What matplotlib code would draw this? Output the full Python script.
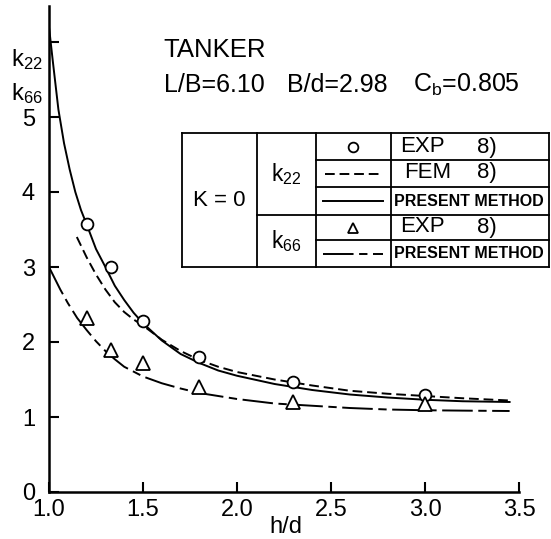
import numpy as np
import matplotlib.pyplot as plt
from matplotlib.lines import Line2D

plt.rcParams['font.family'] = ['Liberation Sans', 'DejaVu Sans']
plt.rcParams['mathtext.fontset'] = 'custom'
plt.rcParams['mathtext.rm'] = 'Liberation Sans'
plt.rcParams['lines.scale_dashes'] = False

# experimental points (EXP 8))
hd_exp = [1.2, 1.33, 1.5, 1.8, 2.3, 3.0]
k22_exp = [3.57, 3.0, 2.28, 1.8, 1.47, 1.29]
k66_exp = [2.32, 1.89, 1.72, 1.40, 1.20, 1.17]

# k22 present method (solid)
hd_k22_pm = [1.0, 1.02, 1.05, 1.08, 1.11, 1.14, 1.17, 1.2, 1.25, 1.3, 1.35, 1.4,
             1.45, 1.5, 1.6, 1.7, 1.8, 1.9, 2.0, 2.2, 2.4, 2.6, 2.8, 3.0, 3.2, 3.45]
k22_pm = [6.2, 5.75, 5.1, 4.65, 4.3, 4.0, 3.76, 3.57, 3.24, 3.0, 2.75, 2.56,
          2.39, 2.25, 2.02, 1.84, 1.72, 1.62, 1.55, 1.44, 1.36, 1.30, 1.26, 1.23, 1.21, 1.2]

# k22 FEM 8) (dashed)
hd_fem = [1.148, 1.2, 1.25, 1.3, 1.35, 1.4, 1.45, 1.5, 1.6, 1.7, 1.8, 1.9, 2.0,
          2.2, 2.4, 2.6, 2.8, 3.0, 3.2, 3.45]
k22_fem = [3.4, 3.13, 2.9, 2.7, 2.53, 2.4, 2.3, 2.22, 2.03, 1.88, 1.76, 1.67, 1.6,
           1.5, 1.42, 1.35, 1.31, 1.28, 1.25, 1.22]

# k66 present method (dash-dot)
hd_k66_pm = [1.0, 1.03, 1.06, 1.1, 1.15, 1.2, 1.25, 1.3, 1.35, 1.4, 1.5, 1.6, 1.7,
             1.8, 1.9, 2.0, 2.2, 2.4, 2.6, 2.8, 3.0, 3.2, 3.45]
k66_pm = [3.0, 2.85, 2.7, 2.52, 2.32, 2.16, 2.01, 1.88, 1.77, 1.67, 1.54, 1.45, 1.38,
          1.32, 1.28, 1.24, 1.18, 1.15, 1.12, 1.10, 1.09, 1.085, 1.08]

xticks = [1.0, 1.5, 2.0, 2.5, 3.0, 3.5]
xtick_labels = ['1.0', '1.5', '2.0', '2.5', '3.0', '3.5']
yticks = [0, 1, 2, 3, 4, 5, 6]
ytick_labels = ['0', '1', '2', '3', '4', '5', '']

W, H = 551, 539
fig = plt.figure(figsize=(W / 100, H / 100), dpi=100)
ax = fig.add_axes([49 / W, 1 - 492 / H, 470 / W, 486 / H])

lw = 1.4
dash = (0, (7, 3.5))
dashdot = (0, (22, 4, 6, 4))

ax.plot(hd_k22_pm, k22_pm, color='k', lw=lw)
ax.plot(hd_fem, k22_fem, color='k', lw=lw, linestyle=dash)
ax.plot(hd_k66_pm, k66_pm, color='k', lw=lw, linestyle=dashdot)
ax.plot(hd_exp, k22_exp, 'o', ms=8.5, mfc='white', mec='k', mew=1.3, zorder=5)
ax.plot(hd_exp, k66_exp, '^', ms=9.5, mfc='white', mec='k', mew=1.3, zorder=5)

ax.set_xlim(1.0, 3.5)
ax.set_ylim(0, 6.48)
ax.set_xticks(xticks)
ax.set_xticklabels(xtick_labels)
ax.set_yticks(yticks)
ax.set_yticklabels(ytick_labels)
ax.tick_params(direction='in', length=7, width=1.5, labelsize=17)
ax.tick_params(axis='y', pad=10)
ax.tick_params(axis='x', pad=5)
for s in ['top', 'right']:
    ax.spines[s].set_visible(False)
for s in ['left', 'bottom']:
    ax.spines[s].set_linewidth(1.8)

# axis labels
fig.text(286 / W, 1 - 527 / H, 'h/d', fontsize=17, ha='center', va='center')
fig.text(27 / W, 1 - 60 / H, r'$\mathregular{k_{22}}$', fontsize=17, ha='center', va='center')
fig.text(27 / W, 1 - 94 / H, r'$\mathregular{k_{66}}$', fontsize=17, ha='center', va='center')

# titles
fig.text(163 / W, 1 - 50 / H, 'TANKER', fontsize=18.5, ha='left', va='center')
fig.text(164 / W, 1 - 85 / H, 'L/B=6.10', fontsize=18, ha='left', va='center')
fig.text(287 / W, 1 - 85 / H, 'B/d=2.98', fontsize=18, ha='left', va='center')
fig.text(413 / W, 1 - 85 / H, r'$\mathregular{C_b}$=0.805', fontsize=18, ha='left', va='center')

# legend table
def fline(x0, x1, y0, y1, **kw):
    kw.setdefault('color', 'k')
    kw.setdefault('lw', 1.3)
    fig.add_artist(Line2D([x0 / W, x1 / W], [1 - y0 / H, 1 - y1 / H],
                          transform=fig.transFigure, **kw))

L, R, T, B = 182, 549, 133, 267
c1, c2, c3 = 257, 316, 391
fline(L, R, T, T)
fline(L, R, B, B)
fline(L, L, T, B)
fline(R, R, T, B)
for c in [c1, c2, c3]:
    fline(c, c, T, B)
fline(c1, R, 215, 215)
for r in [160, 187, 240]:
    fline(c2, R, r, r)

fig.text(219 / W, 1 - 200 / H, 'K = 0', fontsize=16, ha='center', va='center')
fig.text(286 / W, 1 - 174 / H, r'$\mathregular{k_{22}}$', fontsize=16.5, ha='center', va='center')
fig.text(286 / W, 1 - 241 / H, r'$\mathregular{k_{66}}$', fontsize=16.5, ha='center', va='center')

fig.add_artist(Line2D([353 / W], [1 - 147 / H], marker='o', ms=7, mfc='white', mec='k',
                      mew=1.3, transform=fig.transFigure))
fline(325, 383, 174, 174, linestyle=dash, lw=lw)
fline(323, 383, 201, 201, lw=lw)
fig.add_artist(Line2D([353 / W], [1 - 228 / H], marker='^', ms=7.5, mfc='white', mec='k',
                      mew=1.3, transform=fig.transFigure))
fline(323, 383, 254, 254, linestyle=dashdot, lw=lw)

fig.text(400 / W, 1 - 147 / H, 'EXP', fontsize=16, ha='left', va='center')
fig.text(477 / W, 1 - 147 / H, '8)', fontsize=16, ha='left', va='center')
fig.text(404 / W, 1 - 173 / H, 'FEM', fontsize=16, ha='left', va='center')
fig.text(477 / W, 1 - 173 / H, '8)', fontsize=16, ha='left', va='center')
fig.text(394 / W, 1 - 201 / H, 'PRESENT METHOD', fontsize=11.5, fontweight='bold',
         ha='left', va='center')
fig.text(400 / W, 1 - 227 / H, 'EXP', fontsize=16, ha='left', va='center')
fig.text(477 / W, 1 - 227 / H, '8)', fontsize=16, ha='left', va='center')
fig.text(394 / W, 1 - 254 / H, 'PRESENT METHOD', fontsize=11.5, fontweight='bold',
         ha='left', va='center')

plt.savefig('out.png', dpi=100)
